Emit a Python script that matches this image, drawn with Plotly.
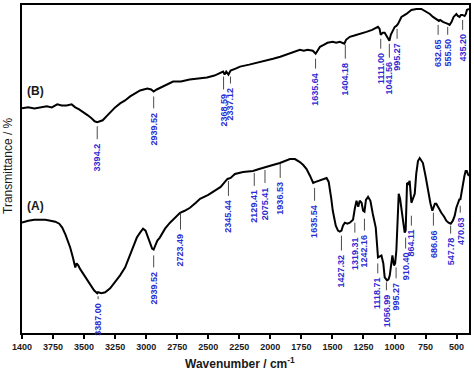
import plotly.graph_objects as go

# ---------------- data ----------------
# Spectrum (B) - upper trace (wavenumber cm-1, transmittance a.u.)
wn_B = [4000, 3950, 3900, 3850, 3800, 3760, 3716, 3680, 3640, 3600, 3571, 3540, 3500, 3470, 3440,
        3415, 3394, 3370, 3350, 3320, 3290, 3250, 3210, 3170, 3129, 3090, 3049, 3020, 2990, 2960,
        2940, 2915, 2880, 2830, 2783, 2720, 2650, 2580, 2510, 2450, 2400, 2380, 2368, 2355, 2337,
        2320, 2280, 2244, 2170, 2100, 2040, 1978, 1920, 1850, 1800, 1762, 1730, 1700, 1658, 1635,
        1615, 1600, 1570, 1540, 1497, 1470, 1440, 1404, 1390, 1360, 1330, 1300, 1260, 1226, 1180,
        1133, 1120, 1111, 1095, 1079, 1060, 1052, 1041, 1030, 1020, 998, 985, 972, 944, 904,
        864, 824, 784, 743, 715, 690, 665, 642, 632, 610, 570, 556, 540, 524, 502,
        490, 476, 465, 454, 435, 425, 417, 400]
T_B = [226, 227, 226, 227, 228, 227, 230, 229, 229, 230, 227, 225, 222, 219, 216,
       213, 212, 213, 214, 218, 222, 227, 231, 234, 238, 241, 244, 245, 246, 245,
       243, 245, 247, 250, 253, 253, 255, 256, 257, 259, 262, 263, 260, 263, 260,
       264, 266, 268, 270, 272, 274, 276, 278, 281, 283, 285, 284, 285, 284, 281,
       285, 288, 290, 292, 293, 292, 293, 291, 295, 298, 299, 300, 302, 303, 305,
       308, 306, 300, 302, 302, 298, 296, 294, 300, 303, 308, 309, 311, 318, 321,
       325, 326, 326, 323, 321, 318, 316, 314, 315, 313, 311, 310, 313, 318, 321,
       319, 318, 320, 320, 319, 321, 325, 326]

# Spectrum (A) - lower trace
wn_A = [4000, 3950, 3900, 3850, 3813, 3770, 3732, 3700, 3676, 3650, 3612, 3590, 3571, 3560, 3547,
        3530, 3515, 3480, 3451, 3420, 3394, 3387, 3360, 3330, 3290, 3250, 3210, 3169, 3140, 3105,
        3075, 3049, 3025, 3005, 2985, 2965, 2952, 2940, 2928, 2910, 2890, 2870, 2848, 2808, 2770,
        2727, 2690, 2647, 2600, 2566, 2500, 2446, 2400, 2366, 2345, 2320, 2285, 2220, 2140, 2090,
        2044, 1980, 1923, 1880, 1842, 1802, 1762, 1735, 1708, 1680, 1655, 1635, 1615, 1580, 1547,
        1530, 1521, 1510, 1497, 1473, 1455, 1441, 1427, 1415, 1400, 1380, 1360, 1334, 1320, 1306,
        1292, 1280, 1265, 1253, 1242, 1230, 1213, 1200, 1194, 1175, 1151, 1140, 1133, 1118, 1105,
        1090, 1079, 1060, 1048, 1038, 1025, 1017, 1004, 995, 985, 975, 966, 955, 944, 930,
        918, 910, 899, 888, 878, 864, 850, 837, 825, 811, 797, 785, 771, 750, 731,
        710, 695, 686, 675, 663, 640, 623, 600, 583, 565, 556, 547, 530, 515, 502,
        490, 476, 470, 460, 449, 437, 427, 418, 409, 400]
T_A = [111, 113, 114, 114, 114, 113, 112, 110, 106, 99, 86, 76, 66, 70, 68,
       64, 61, 54, 48, 43, 40, 41, 40, 41, 45, 51, 58, 66, 75, 86,
       96, 101, 105, 103, 96, 90, 85, 84, 88, 93, 96, 101, 105, 111, 116,
       121, 123, 126, 131, 135, 139, 143, 147, 152, 155, 156, 160, 162, 163, 165,
       167, 169, 171, 173, 175, 175, 172, 169, 165, 158, 151, 152, 153, 155, 156,
       152, 146, 136, 123, 108, 103, 102, 103, 108, 111, 110, 111, 114, 125, 133,
       127, 133, 131, 123, 122, 134, 137, 133, 133, 120, 106, 88, 76, 77, 78,
       70, 56, 53, 54, 58, 72, 78, 68, 70, 83, 115, 140, 135, 126, 112,
       101, 103, 151, 150, 153, 131, 136, 140, 160, 173, 176, 174, 171, 158, 143,
       130, 123, 127, 130, 130, 124, 121, 117, 113, 111, 110, 110, 113, 118, 126,
       131, 135, 134, 142, 150, 158, 163, 163, 160, 158]

# Peak labels
peaks_B = ["3394.2", "2939.52", "2368.59", "2337.12", "1635.64", "1404.18",
           "1111.00", "1041.56", "995.27", "632.65", "555.50", "435.20"]
peaks_A = ["3387.00", "2939.52", "2723.49", "2345.44", "2129.41", "2075.41", "1936.53",
           "1635.54", "1427.32", "1319.31", "1242.16", "1118.71", "1056.99", "995.27",
           "910.40", "864.11", "686.66", "547.78", "470.63"]

tick_vals = [4000, 3750, 3500, 3250, 3000, 2750, 2500, 2250, 2000, 1750, 1500, 1250, 1000, 750, 500]
tick_text = ["1400", "3750", "3500", "3250", "3000", "2750", "2500", "2250", "2000",
             "1750", "1500", "1250", "1000", "750", "500"]

# ---------------- label placement (marker-line top / bottom in y units, x nudge in px) ----------------
place_B = [(208, 195), (238, 226), (258, 245), (258, 251), (276, 266), (290, 276),
           (296, 286), (291, 277), (306, 296), (310, 300), (308, 300), (315, 305)]
nudge_B = [0, 0, -1, 2, 0, 1, 0, 0, 2, -2, -2, -2]
place_A = [(37, 34), (78, 66), (120, 104), (153, 138), (161, 148), (164, 151), (170, 156),
           (146, 133), (98, 83), (111, 101), (115, 103), (70, 60), (51, 43), (66, 55),
           (96, 85), (118, 108), (121, 108), (108, 100), (128, 121)]
nudge_A = [0, 0, 0, 1, 0, 4, 2, -1, 0, 0, 0, -2, -1, 1, 0, 0, 0, 0, 0]

FONT = "Liberation Sans"
BLUE = "#2a2ad2"

fig = go.Figure()
fig.add_trace(go.Scatter(x=wn_B, y=T_B, mode="lines", line=dict(color="black", width=2),
                         hoverinfo="skip", showlegend=False))
fig.add_trace(go.Scatter(x=wn_A, y=T_A, mode="lines", line=dict(color="black", width=2),
                         hoverinfo="skip", showlegend=False))

shapes = []
annotations = []
for labels, places, nudges in ((peaks_B, place_B, nudge_B), (peaks_A, place_A, nudge_A)):
    for txt, (top, bot), dx in zip(labels, places, nudges):
        x = float(txt)
        shapes.append(dict(type="line", xref="x", yref="y", xsizemode="pixel", xanchor=x,
                           x0=dx, x1=dx, y0=top, y1=bot,
                           line=dict(color="#4a4a4a", width=1)))
        annotations.append(dict(x=x, y=bot - 2, xref="x", yref="y", xshift=dx, text=txt,
                                showarrow=False, textangle=-90, xanchor="center", yanchor="top",
                                font=dict(family=FONT, size=9, color=BLUE, weight="bold")))

annotations.append(dict(x=3893, y=243, xref="x", yref="y", text="(B)", showarrow=False,
                        font=dict(family=FONT, size=12, color="#1a1a1a", weight="bold")))
annotations.append(dict(x=3893, y=128, xref="x", yref="y", text="(A)", showarrow=False,
                        font=dict(family=FONT, size=12, color="#1a1a1a", weight="bold")))
annotations.append(dict(x=0.5, y=0, xref="paper", yref="paper", xshift=-6, yshift=-30,
                        text="Wavenumber / cm<sup>-1</sup>", showarrow=False,
                        xanchor="center", yanchor="middle",
                        font=dict(family=FONT, size=12, color="#1a1a1a", weight="bold")))
annotations.append(dict(x=0, y=0.5, xref="paper", yref="paper", xshift=-14, yshift=3,
                        text="Transmittance / %", showarrow=False, textangle=-90,
                        xanchor="center", yanchor="middle",
                        font=dict(family=FONT, size=12, color="#1a1a1a")))

fig.update_layout(
    width=474, height=370,
    margin=dict(l=22, r=4, t=3, b=37),
    paper_bgcolor="white", plot_bgcolor="white",
    shapes=shapes, annotations=annotations,
    xaxis=dict(range=[4000, 400], tickvals=tick_vals, ticktext=tick_text,
               ticks="outside", ticklen=4, tickwidth=2, tickcolor="black",
               showline=True, linecolor="black", linewidth=2, mirror=True,
               showgrid=False, zeroline=False,
               tickfont=dict(family=FONT, size=9, color="#1a1a1a", weight="bold")),
    yaxis=dict(range=[0, 330], showticklabels=False, ticks="",
               showline=True, linecolor="black", linewidth=2, mirror=True,
               showgrid=False, zeroline=False),
)

fig.write_html("out.html", config={"displayModeBar": False},
               post_script="document.body.style.margin='0px';")
